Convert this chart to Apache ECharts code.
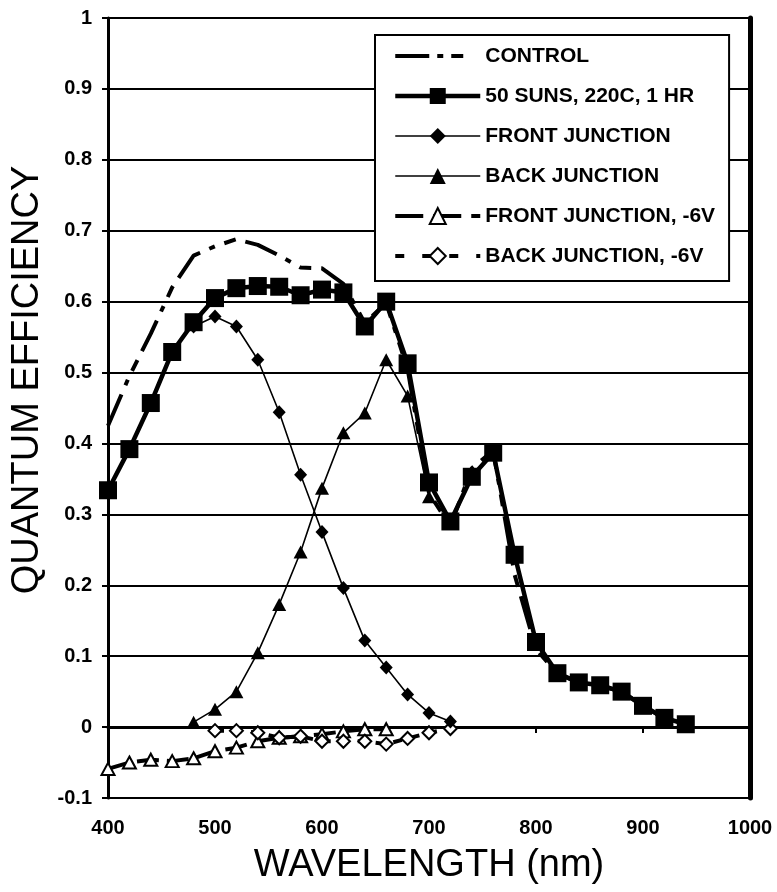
<!DOCTYPE html>
<html>
<head>
<meta charset="utf-8">
<script src="https://cdn.jsdelivr.net/npm/echarts@6/dist/echarts.min.js"></script>
<style>
  html, body { margin: 0; padding: 0; background: #fff; }
  #chart { width: 777px; height: 892px; }
</style>
</head>
<body>
<div id="chart"></div>
<script>
// Wavelengths (nm) for each measured curve
const wlFull = [400, 420, 440, 460, 480, 500, 520, 540, 560, 580, 600, 620, 640, 660,
                680, 700, 720, 740, 760, 780, 800, 820, 840, 860, 880, 900, 920, 940];
const wlJunction = [480, 500, 520, 540, 560, 580, 600, 620, 640, 660, 680, 700, 720];
const wlFrontRev = [400, 420, 440, 460, 480, 500, 520, 540, 560, 580, 600, 620, 640, 660];
const wlBackRev = [500, 520, 540, 560, 580, 600, 620, 640, 660, 680, 700, 720];

// Quantum efficiency values
const control = [0.425, 0.495, 0.555, 0.62, 0.665, 0.678, 0.688, 0.68, 0.665, 0.648, 0.647, 0.625, 0.57, 0.598,
                 0.505, 0.33, 0.283, 0.365, 0.39, 0.215, 0.11, 0.075, 0.063, 0.058, 0.05, 0.03, 0.012, 0.005];
const suns50 = [0.334, 0.392, 0.457, 0.529, 0.571, 0.605, 0.619, 0.622, 0.621, 0.609, 0.617, 0.613, 0.565, 0.600,
                0.513, 0.345, 0.290, 0.353, 0.387, 0.243, 0.120, 0.076, 0.063, 0.059, 0.050, 0.030, 0.013, 0.004];
const frontJunction = [0.565, 0.579, 0.565, 0.518, 0.444, 0.356, 0.275, 0.196, 0.122, 0.084, 0.046, 0.020, 0.008];
const backJunction = [0.007, 0.025, 0.05, 0.105, 0.173, 0.247, 0.337, 0.415, 0.443, 0.518, 0.467, 0.325, 0.292];
const frontRev = [-0.059, -0.05, -0.046, -0.048, -0.044, -0.034, -0.029, -0.02, -0.015, -0.013, -0.01, -0.006, -0.003, -0.003];
const backRev = [-0.005, -0.005, -0.008, -0.015, -0.013, -0.02, -0.02, -0.02, -0.024, -0.016, -0.008, -0.002];

// Series names
const names = ['CONTROL', '50 SUNS, 220C, 1 HR', 'FRONT JUNCTION', 'BACK JUNCTION',
               'FRONT JUNCTION, -6V', 'BACK JUNCTION, -6V'];

// Line dash patterns shared by plot lines and legend keys
const DASH_CONTROL = [34, 10, 6, 10, 12, 10];
const DASH_FRONT_REV = [22, 8];
const DASH_BACK_REV = [9, 9];

const pairs = (xs, ys) => xs.map((x, i) => [x, ys[i]]);

const FONT = '"Liberation Sans", Arial, Helvetica, sans-serif';
const chart = echarts.init(document.getElementById('chart'), null, { renderer: 'canvas' });

chart.setOption({
  animation: false,
  backgroundColor: '#fff',
  textStyle: { fontFamily: FONT, color: '#000' },
  grid: { left: 108, top: 18, right: 27, bottom: 94, show: false },
  legend: {
    data: [
      { name: names[0], itemStyle: { opacity: 0 }, lineStyle: { width: 4, type: [34, 8, 6, 8, 12, 20] } },
      { name: names[1], lineStyle: { width: 4.5 } },
      { name: names[2], lineStyle: { width: 1.6 } },
      { name: names[3], lineStyle: { width: 1.6 } },
      { name: names[4], lineStyle: { width: 4, type: [28, 10] } },
      { name: names[5], lineStyle: { width: 4, type: [9, 18] } }
    ],
    orient: 'vertical',
    left: 375,
    top: 35,
    padding: [10, 14, 14, 18],
    itemWidth: 85,
    itemHeight: 20,
    itemGap: 18,
    selectedMode: false,
    backgroundColor: '#fff',
    borderColor: '#000',
    borderWidth: 2,
    textStyle: { fontFamily: FONT, fontSize: 21, fontWeight: 'bold', color: '#000', lineHeight: 22 }
  },
  xAxis: [{
    type: 'value', min: 400, max: 1000, interval: 100,
    name: 'WAVELENGTH (nm)', nameLocation: 'middle', nameGap: 49,
    nameTextStyle: { fontFamily: FONT, fontSize: 38, color: '#000' },
    axisLine: { show: true, lineStyle: { color: '#000', width: 3 } },
    axisTick: { show: true, length: 6, lineStyle: { color: '#000', width: 2 } },
    axisLabel: {
      margin: 20, fontFamily: FONT, fontSize: 20, fontWeight: 'bold', color: '#000',
      formatter: v => String(v)
    },
    splitLine: { show: false }
  }, {
    type: 'value', min: 400, max: 1000, position: 'top',
    axisLine: { show: true, lineStyle: { color: '#000', width: 2 } },
    axisTick: { show: false }, axisLabel: { show: false }, splitLine: { show: false }
  }],
  yAxis: [{
    type: 'value', min: -0.1, max: 1, interval: 0.1,
    name: 'QUANTUM EFFICIENCY', nameLocation: 'middle', nameGap: 56,
    nameTextStyle: { fontFamily: FONT, fontSize: 38, color: '#000', padding: [0, 0, 0, 56] },
    axisLine: { show: true, lineStyle: { color: '#000', width: 3 } },
    axisTick: { show: true, length: 6, lineStyle: { color: '#000', width: 2 } },
    axisLabel: {
      margin: 16, fontFamily: FONT, fontSize: 20, fontWeight: 'bold', color: '#000',
      formatter: v => String(Math.round(v * 10) / 10)
    },
    splitLine: { show: true, lineStyle: { color: '#000', width: 2 } }
  }, {
    type: 'value', min: -0.1, max: 1, position: 'right',
    axisLine: { show: true, lineStyle: { color: '#000', width: 5 } },
    axisTick: { show: false }, axisLabel: { show: false }, splitLine: { show: false }
  }],
  series: [
    {
      name: names[4], type: 'line', z: 3,
      data: pairs(wlFrontRev, frontRev),
      symbol: 'triangle', symbolSize: [13, 12],
      itemStyle: { color: '#fff', borderColor: '#000', borderWidth: 2 },
      lineStyle: { color: '#000', width: 4, type: DASH_FRONT_REV }
    },
    {
      name: names[5], type: 'line', z: 3,
      data: pairs(wlBackRev, backRev),
      symbol: 'diamond', symbolSize: [13, 13],
      itemStyle: { color: '#fff', borderColor: '#000', borderWidth: 2 },
      lineStyle: { color: '#000', width: 4, type: DASH_BACK_REV }
    },
    {
      name: names[2], type: 'line', z: 4,
      data: pairs(wlJunction, frontJunction),
      symbol: 'diamond', symbolSize: [13, 14],
      itemStyle: { color: '#000' },
      lineStyle: { color: '#000', width: 1.6 }
    },
    {
      name: names[3], type: 'line', z: 4,
      data: pairs(wlJunction, backJunction),
      symbol: 'triangle', symbolSize: [14, 13],
      itemStyle: { color: '#000' },
      lineStyle: { color: '#000', width: 1.6 }
    },
    {
      name: names[0], type: 'line', z: 5,
      data: pairs(wlFull, control),
      symbol: 'none',
      itemStyle: { color: '#000' },
      lineStyle: { color: '#000', width: 4, type: DASH_CONTROL }
    },
    {
      name: names[1], type: 'line', z: 6,
      data: pairs(wlFull, suns50),
      symbol: 'rect', symbolSize: 18,
      itemStyle: { color: '#000' },
      lineStyle: { color: '#000', width: 4.5 }
    }
  ]
});
</script>
</body>
</html>
